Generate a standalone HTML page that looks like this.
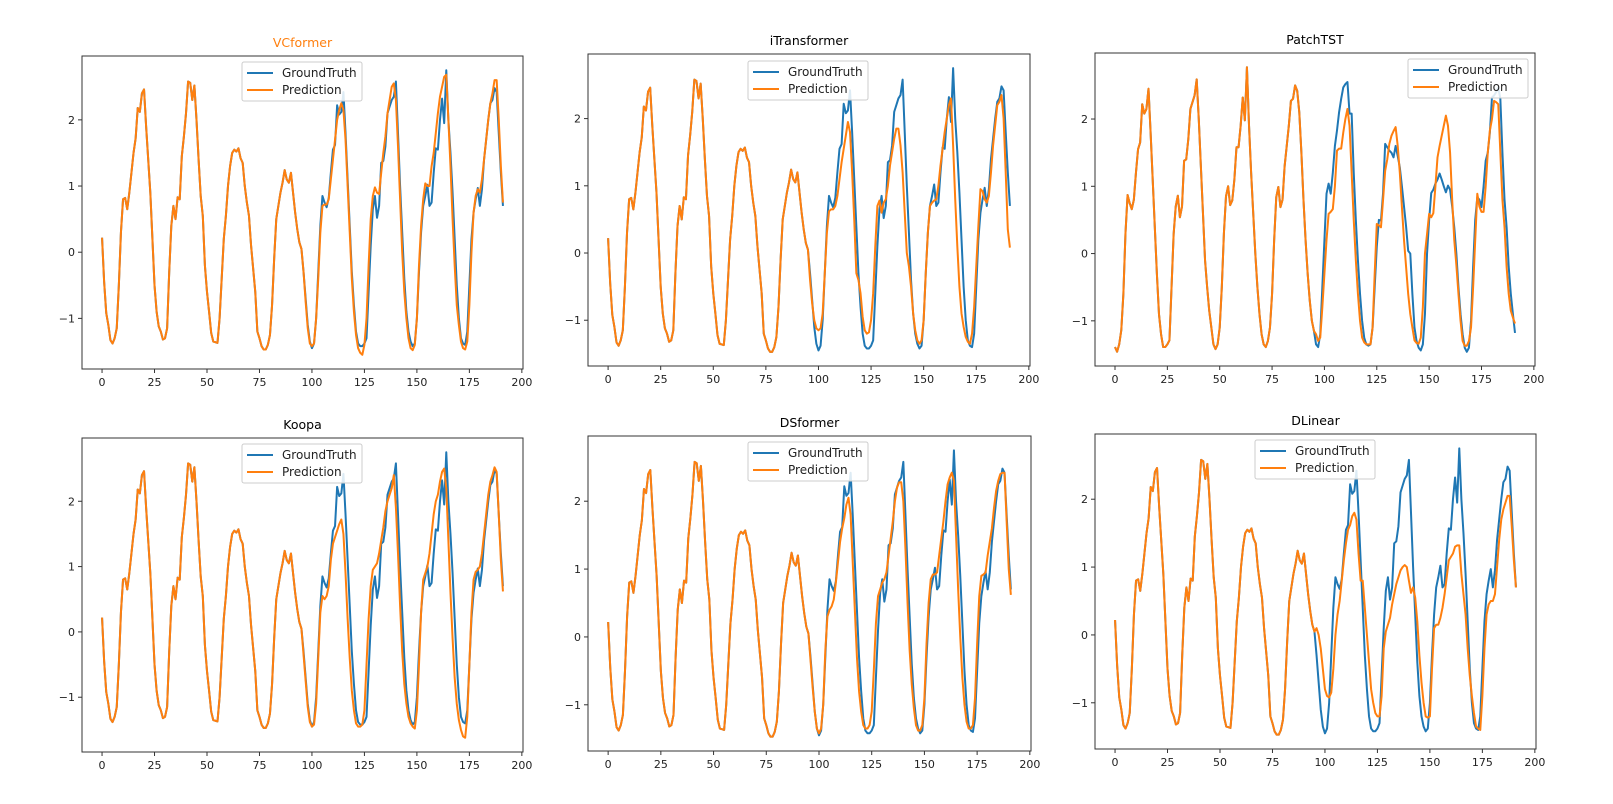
<!DOCTYPE html>
<html><head><meta charset="utf-8">
<style>
body{margin:0;background:#fff;}
svg{display:block;font-family:"DejaVu Sans","Liberation Sans",sans-serif;}
</style></head>
<body>
<svg id="fig" width="1613" height="804" viewBox="0 0 1613 804" xmlns="http://www.w3.org/2000/svg">
<rect width="1613" height="804" fill="#fff"/>
</svg>
<script>
// Shared input window (indices 0-95)
const inputSeq = [
0.22,-0.45,-0.92,-1.1,-1.33,-1.38,-1.3,-1.15,-0.5,0.3,0.8,0.82,
0.65,0.9,1.2,1.5,1.72,2.18,2.12,2.4,2.46,1.9,1.4,0.9,
0.2,-0.5,-0.9,-1.12,-1.2,-1.32,-1.3,-1.15,-0.3,0.4,0.7,0.5,
0.83,0.8,1.45,1.75,2.1,2.58,2.56,2.3,2.52,2.0,1.4,0.85,
0.55,-0.2,-0.6,-0.9,-1.22,-1.35,-1.36,-1.37,-1.0,-0.4,0.2,0.55,
1.0,1.3,1.5,1.55,1.52,1.57,1.42,1.35,1.0,0.75,0.55,0.1,
-0.25,-0.6,-1.2,-1.3,-1.42,-1.47,-1.47,-1.4,-1.25,-0.8,-0.1,0.5,
0.7,0.9,1.05,1.24,1.1,1.05,1.2,0.9,0.6,0.35,0.15,0.05];
// Shared ground truth future (96-191)
const gtFuture = [
-0.3,-0.7,-1.1,-1.35,-1.45,-1.38,-1.0,-0.3,0.4,0.85,0.75,0.68,
0.82,1.2,1.55,1.62,2.22,2.08,2.12,2.42,1.8,1.1,0.4,-0.3,
-0.8,-1.2,-1.38,-1.42,-1.42,-1.38,-1.3,-0.6,0.1,0.65,0.85,0.52,
0.7,1.35,1.38,1.6,2.1,2.2,2.3,2.35,2.58,1.8,1.0,0.3,
-0.4,-0.9,-1.2,-1.35,-1.42,-1.38,-1.0,-0.3,0.3,0.7,0.85,1.02,
0.7,0.75,1.2,1.57,1.55,2.0,2.32,1.95,2.75,2.0,1.5,0.9,
0.2,-0.5,-1.0,-1.3,-1.38,-1.4,-1.2,-0.5,0.2,0.6,0.8,0.97,
0.7,0.95,1.4,1.7,2.0,2.25,2.3,2.48,2.42,1.8,1.2,0.7];
const vcPred = [
-0.3,-0.75,-1.15,-1.38,-1.42,-1.38,-1.0,-0.4,0.3,0.7,0.72,0.72,
0.8,1.1,1.4,1.7,2.0,2.15,2.25,2.15,1.7,1.0,0.3,-0.4,
-0.9,-1.25,-1.45,-1.52,-1.55,-1.4,-1.0,-0.2,0.5,0.85,0.98,0.9,
0.88,1.2,1.5,1.75,2.1,2.3,2.5,2.55,2.3,1.6,0.8,0.0,
-0.6,-1.0,-1.3,-1.45,-1.48,-1.4,-1.0,-0.2,0.4,0.8,1.04,1.0,
1.0,1.3,1.5,1.8,2.1,2.35,2.5,2.65,2.68,2.0,1.3,0.5,
-0.2,-0.8,-1.1,-1.35,-1.45,-1.47,-1.35,-0.8,0.0,0.6,0.85,0.95,
0.9,1.1,1.4,1.7,2.0,2.25,2.4,2.6,2.6,2.0,1.3,0.75];
const itPred = [
-0.4,-0.75,-1.0,-1.12,-1.15,-1.12,-0.9,-0.3,0.3,0.62,0.65,0.65,
0.7,0.85,1.1,1.35,1.55,1.75,1.95,1.8,1.2,0.5,-0.3,-0.4,
-0.6,-0.95,-1.15,-1.2,-1.18,-1.0,-0.6,0.1,0.7,0.78,0.6,0.75,
0.8,1.0,1.3,1.5,1.7,1.85,1.85,1.6,1.2,0.6,0.0,-0.2,
-0.5,-0.9,-1.15,-1.3,-1.35,-1.3,-1.0,-0.3,0.3,0.7,0.75,0.78,
0.8,1.0,1.3,1.55,1.8,2.0,2.2,2.3,1.6,0.8,0.1,-0.5,
-0.9,-1.1,-1.25,-1.32,-1.35,-1.2,-0.8,-0.2,0.4,0.95,0.92,0.8,
0.75,0.85,1.2,1.6,1.9,2.2,2.25,2.35,2.0,1.2,0.35,0.08];
const koopaPred = [
-0.35,-0.75,-1.15,-1.38,-1.45,-1.42,-1.1,-0.4,0.3,0.55,0.5,0.55,
0.7,1.1,1.35,1.45,1.55,1.65,1.72,1.5,0.9,0.2,-0.4,-0.9,
-1.2,-1.4,-1.45,-1.45,-1.42,-1.2,-0.5,0.2,0.7,0.95,1.0,1.05,
1.2,1.4,1.6,1.85,2.0,2.1,2.2,2.4,1.9,1.2,0.4,-0.3,
-0.8,-1.1,-1.3,-1.4,-1.45,-1.48,-1.2,-0.5,0.3,0.8,0.9,1.0,
1.2,1.5,1.8,2.0,2.1,2.3,2.45,2.5,2.2,1.4,0.6,-0.1,
-0.7,-1.1,-1.35,-1.5,-1.6,-1.62,-1.3,-0.5,0.3,0.8,0.92,0.95,
1.0,1.2,1.5,1.8,2.1,2.3,2.4,2.52,2.45,1.8,1.1,0.62];
const dsPred = [
-0.35,-0.75,-1.1,-1.35,-1.42,-1.35,-1.0,-0.2,0.3,0.4,0.45,0.55,
0.8,1.1,1.4,1.6,1.75,1.95,2.05,1.8,1.1,0.4,-0.3,-0.8,
-1.1,-1.3,-1.35,-1.35,-1.3,-1.1,-0.5,0.2,0.6,0.7,0.8,0.85,
0.95,1.2,1.45,1.7,2.0,2.2,2.28,2.28,2.0,1.3,0.5,-0.2,
-0.7,-1.05,-1.3,-1.38,-1.38,-1.3,-0.9,-0.1,0.5,0.85,0.92,0.92,
0.95,1.2,1.45,1.7,2.0,2.25,2.35,2.42,2.3,1.5,0.7,0.0,
-0.6,-1.0,-1.25,-1.35,-1.35,-1.3,-0.9,-0.1,0.6,0.9,0.92,0.95,
1.2,1.4,1.6,1.9,2.15,2.3,2.4,2.42,2.42,1.7,1.0,0.62];
const dlPred = [
0.1,0.0,-0.2,-0.5,-0.8,-0.9,-0.92,-0.85,-0.5,0.0,0.3,0.5,
0.8,1.1,1.35,1.55,1.62,1.75,1.8,1.7,1.2,0.8,0.8,0.4,
0.0,-0.4,-0.8,-1.0,-1.15,-1.2,-1.2,-0.9,-0.2,0.05,0.15,0.25,
0.45,0.6,0.75,0.85,0.95,1.0,1.03,1.0,0.8,0.62,0.7,0.55,
0.2,-0.3,-0.7,-1.0,-1.2,-1.22,-1.2,-0.5,0.1,0.15,0.15,0.25,
0.4,0.6,0.85,1.1,1.15,1.2,1.3,1.32,1.32,0.9,0.6,0.3,
-0.2,-0.6,-0.9,-1.15,-1.35,-1.38,-1.4,-0.9,-0.2,0.3,0.45,0.5,
0.5,0.6,1.0,1.4,1.7,1.85,1.95,2.05,2.05,1.6,1.1,0.7];
// PatchTST uses a different sample
const ptInput = [
-1.39,-1.46,-1.35,-1.14,-0.6,0.3,0.87,0.75,0.66,0.8,1.2,1.55,
1.65,2.22,2.08,2.15,2.45,1.8,1.1,0.4,-0.3,-0.9,-1.2,-1.39,
-1.39,-1.35,-1.29,-0.5,0.29,0.7,0.86,0.54,0.7,1.38,1.4,1.7,
2.15,2.25,2.35,2.59,2.0,1.3,0.6,-0.1,-0.5,-0.85,-1.1,-1.35,
-1.42,-1.35,-1.1,-0.5,0.3,0.85,1.0,0.72,0.79,1.1,1.58,1.58,
1.9,2.32,1.98,2.77,1.9,1.2,0.6,0.0,-0.5,-0.9,-1.2,-1.35,
-1.39,-1.3,-1.1,-0.6,0.2,0.84,0.99,0.69,0.8,1.3,1.6,1.9,
2.27,2.3,2.5,2.42,2.1,1.5,0.8,0.2,-0.3,-0.7,-1.0,-1.15];
const ptGtFuture = [
-1.35,-1.39,-1.2,-0.5,0.2,0.89,1.04,0.89,1.2,1.6,1.83,2.1,
2.3,2.47,2.52,2.55,2.08,2.08,1.2,0.5,-0.1,-0.6,-1.0,-1.25,
-1.35,-1.37,-1.35,-1.1,-0.5,0.1,0.5,0.49,0.9,1.63,1.58,1.53,
1.5,1.43,1.6,1.45,1.28,1.0,0.7,0.4,0.04,0.0,-0.6,-1.1,
-1.3,-1.4,-1.44,-1.35,-0.9,0.0,0.5,0.9,0.95,1.04,1.1,1.19,
1.1,1.0,0.91,1.01,0.95,0.7,0.39,0.0,-0.5,-0.9,-1.2,-1.4,
-1.46,-1.4,-1.0,-0.2,0.5,0.84,0.8,0.69,1.0,1.38,1.5,1.8,
2.32,2.35,2.4,2.47,2.3,1.5,0.8,0.39,-0.2,-0.6,-0.9,-1.18];
const ptPred = [
-1.2,-1.3,-1.25,-0.8,-0.3,0.2,0.59,0.62,0.66,1.0,1.53,1.56,
1.56,1.8,2.0,2.15,1.9,1.2,0.5,-0.1,-0.6,-1.0,-1.25,-1.32,
-1.35,-1.35,-1.35,-1.1,-0.3,0.44,0.42,0.39,0.8,1.23,1.4,1.63,
1.75,1.82,1.88,1.6,1.2,0.69,0.2,-0.2,-0.6,-0.9,-1.1,-1.29,
-1.33,-1.34,-1.25,-0.8,0.0,0.29,0.59,0.54,0.6,1.0,1.43,1.6,
1.75,1.9,2.05,1.9,1.5,0.8,0.2,-0.17,-0.6,-1.0,-1.3,-1.37,
-1.37,-1.3,-1.1,-0.5,0.2,0.89,0.7,0.62,0.62,1.0,1.5,1.83,
2.0,2.27,2.25,2.22,1.5,0.8,0.39,-0.2,-0.6,-0.85,-0.95,-1.04];
const xTicks = [0,25,50,75,100,125,150,175,200];
const yTicks = [-1,0,1,2];
const titles = ["VCformer","iTransformer","PatchTST","Koopa","DSformer","DLinear"];

const NS="http://www.w3.org/2000/svg";
const svg=document.getElementById('fig');
function mk(tag,attrs,parent){const e=document.createElementNS(NS,tag);for(const k in attrs)e.setAttribute(k,attrs[k]);(parent||svg).appendChild(e);return e;}

const panels=[
 {t:0,box:[82,56,441,313],gt:inputSeq.concat(gtFuture),pr:inputSeq.concat(vcPred),leg:[242,62],tc:"#ff7f0e"},
 {t:1,box:[588,54,442,312],gt:inputSeq.concat(gtFuture),pr:inputSeq.concat(itPred),leg:[748,61],tc:"#000"},
 {t:2,box:[1095,53,440,313],gt:ptInput.concat(ptGtFuture),pr:ptInput.concat(ptPred),leg:[1408,59],tc:"#000"},
 {t:3,box:[82,438,441,314],gt:inputSeq.concat(gtFuture),pr:inputSeq.concat(koopaPred),leg:[242,444],tc:"#000"},
 {t:4,box:[588,436,443,315],gt:inputSeq.concat(gtFuture),pr:inputSeq.concat(dsPred),leg:[748,442],tc:"#000"},
 {t:5,box:[1095,434,441,315],gt:inputSeq.concat(gtFuture),pr:inputSeq.concat(dlPred),leg:[1255,440],tc:"#000"}
];

panels.forEach((p,pi)=>{
  const [L,T,W,H]=p.box;
  const g=mk('g',{});
  
  
  const n=p.gt.length;
  const xmin=-0.05*(n-1), xmax=(n-1)*1.05;
  const all=p.gt.concat(p.pr);
  const dmin=Math.min(...all), dmax=Math.max(...all), r=dmax-dmin;
  const ymin=dmin-0.05*r, ymax=dmax+0.05*r;
  const X=v=>L+(v-xmin)/(xmax-xmin)*W;
  const Y=v=>T+H-(v-ymin)/(ymax-ymin)*H;
  const cp=mk('clipPath',{id:'cp'+pi},g);
  mk('rect',{x:L,y:T,width:W,height:H},cp);
  // series
  [[p.gt,'#1f77b4','ground-truth-line'],[p.pr,'#ff7f0e','prediction-line']].forEach(s=>{
    const d=s[0].map((v,i)=>(i?'L':'M')+X(i).toFixed(2)+' '+Y(v).toFixed(2)).join(' ');
    const path=mk('path',{d:d,fill:'none',stroke:s[1],'stroke-width':2,'stroke-linejoin':'round','clip-path':'url(#cp'+pi+')'},g);
    
    
  });
  const fr=mk('rect',{x:L,y:T,width:W,height:H,fill:'none',stroke:'#333','stroke-width':1},g);
  
  
  xTicks.forEach(t=>{
    const x=X(t);
    mk('line',{x1:x,x2:x,y1:T+H,y2:T+H+4,stroke:'#333'},g);
    const tx=mk('text',{x:x,y:T+H+17,'font-size':11,'text-anchor':'middle',fill:'#222'},g);
    tx.textContent=String(t);
    
    
  });
  yTicks.forEach(t=>{
    const y=Y(t);
    mk('line',{x1:L-4,x2:L,y1:y,y2:y,stroke:'#333'},g);
    const tx=mk('text',{x:L-7,y:y+4,'font-size':11,'text-anchor':'end',fill:'#222'},g);
    tx.textContent=(t<0?'\u2212':'')+Math.abs(t);
    
    
  });
  const ti=mk('text',{x:L+W/2,y:T-9,'font-size':12.5,'text-anchor':'middle',fill:p.tc},g);
  ti.textContent=titles[p.t];
  
  
  // legend
  const [lx,ly]=p.leg;
  const lg=mk('g',{},g);
  
  
  mk('rect',{x:lx,y:ly,width:120,height:39,rx:2,fill:'#fff','fill-opacity':0.85,stroke:'#ccc'},lg);
  [['GroundTruth','#1f77b4',11],['Prediction','#ff7f0e',28]].forEach(e=>{
    const en=mk('g',{},lg);
    
    
    mk('line',{x1:lx+5,x2:lx+31,y1:ly+e[2],y2:ly+e[2],stroke:e[1],'stroke-width':2},en);
    const tt=mk('text',{x:lx+40,y:ly+e[2]+4,'font-size':12,fill:'#222'},en);
    tt.textContent=e[0];
  });
});
</script>
</body></html>
